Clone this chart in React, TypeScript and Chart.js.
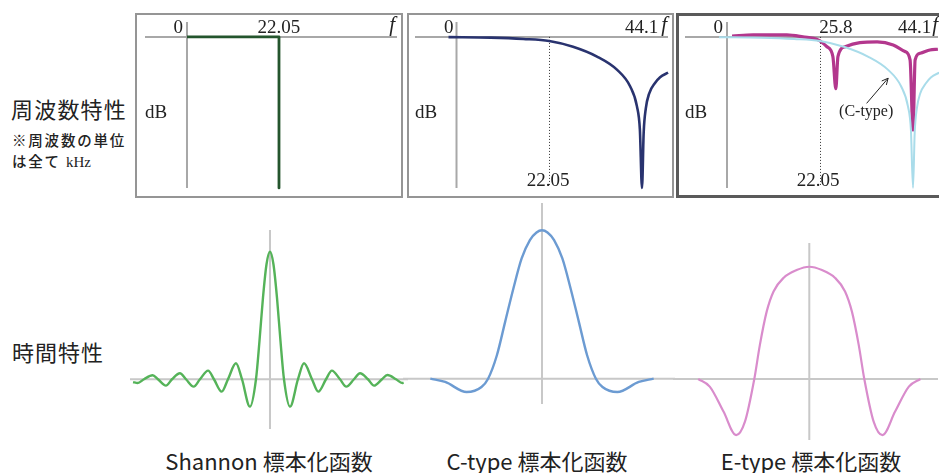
import React, { useEffect, useRef } from "react";
import { Chart, registerables } from "chart.js";

Chart.register(...registerables);

// ---------------- data ----------------
// Frequency characteristics: x = frequency (kHz), y = level (dB)
const nyquistKHz = 22.05;
const samplingKHz = 44.1;
const eTypeNotchKHz = 25.8;
const floorDb = -60;

const shannonFreqKHz = [0, 22.05, 22.05];
const shannonFreqDb = [0, 0, -60];

const cTypeFreqKHz = [-1.9, 8.1, 15.9, 22.05, 27.7, 33.4, 38.2, 41.3, 42.9, 43.6, 44.1, 44.5, 45.0, 45.8, 47.2, 48.4, 50.3];
const cTypeFreqDb = [-0.1, -0.3, -0.8, -1.6, -3.9, -7.8, -13.1, -19.7, -27.6, -36.9, -60, -38, -28.5, -22.5, -18.3, -16.0, -14.2];

const eTypeFreqKHz = [1.2, 6.2, 14.2, 18.0, 21.6, 23.7, 25.1, 25.8, 26.3, 28.0, 31.5, 35.6, 39.4, 42.2, 43.4, 44.1, 44.6, 45.8, 48.1, 50.0];
const eTypeFreqDb = [0.3, 0.8, 0.8, 0, -1.2, -3.9, -7.8, -20.6, -7.8, -3.9, -2.3, -2.0, -3.2, -5.8, -9.1, -37, -9.1, -6.5, -5.2, -4.9];

// Time characteristics: x = time (sampling intervals), y = amplitude
const shannonTime = [-9.78, -9.45, -9, -8.38, -8, -7.43, -7, -6.43, -6, -5.45, -5, -4.42, -4, -3.45, -3, -2.43, -2, -1.43, -1, -0.75, -0.5, -0.25, 0, 0.25, 0.5, 0.75, 1, 1.43, 2, 2.43, 3, 3.45, 4, 4.42, 5, 5.45, 6, 6.43, 7, 7.43, 8, 8.38, 9, 9.45, 9.55];
const shannonValue = [-0.022, -0.03, 0, 0.031, 0, -0.05, 0, 0.047, 0, -0.058, 0, 0.068, 0, -0.097, 0, 0.125, 0, -0.215, 0, 0.3, 0.64, 0.9, 1, 0.9, 0.64, 0.3, 0, -0.215, 0, 0.125, 0, -0.097, 0, 0.068, 0, -0.058, 0, 0.047, 0, -0.05, 0, 0.033, 0, -0.03, -0.028];

const cTypeTime = [-2.03, -1.76, -1.37, -1.1, -0.98, -0.82, -0.67, -0.52, -0.37, -0.22, -0.1, 0, 0.1, 0.22, 0.37, 0.52, 0.67, 0.82, 0.98, 1.1, 1.37, 1.76, 2.03];
const cTypeValue = [0, -0.022, -0.09, -0.056, 0, 0.158, 0.383, 0.608, 0.81, 0.934, 0.985, 1, 0.985, 0.934, 0.81, 0.608, 0.383, 0.158, 0, -0.056, -0.09, -0.022, 0];

const eTypeTime = [-2.02, -1.81, -1.56, -1.33, -1.17, -1.0, -0.9, -0.775, -0.65, -0.47, -0.23, 0, 0.23, 0.47, 0.65, 0.775, 0.9, 1.0, 1.17, 1.33, 1.56, 1.81, 2.02];
const eTypeValue = [0, -0.068, -0.29, -0.5, -0.38, 0, 0.3, 0.6, 0.78, 0.9, 0.97, 1, 0.97, 0.9, 0.78, 0.6, 0.3, 0, -0.38, -0.5, -0.29, -0.068, 0];

// Text
const freqHeading = "周波数特性";
const freqNote1 = "※周波数の単位";
const freqNote2 = "は全て ";
const freqUnit = "kHz";
const timeHeading = "時間特性";
const captions = ["Shannon 標本化函数", "C-type 標本化函数", "E-type 標本化函数"];
const zeroLabel = "0";
const dbLabel = "dB";
const freqSymbol = "f";
const cTypeNote = "(C-type)";

// ---------------- helpers ----------------
const SERIF = '"Liberation Serif", "Times New Roman", serif';
const SANS = '"Noto Sans CJK JP", "Noto Sans", sans-serif';

function series(xs: number[], ys: number[], color: string, width: number, smooth = true) {
  return {
    data: xs.map((x, i) => ({ x, y: ys[i] })),
    borderColor: color,
    backgroundColor: color,
    borderWidth: width,
    fill: false,
    pointRadius: 0,
    tension: 0,
    cubicInterpolationMode: smooth ? "monotone" : "default",
  };
}

function txt(ctx: CanvasRenderingContext2D, s: string, x: number, y: number, font: string, align: CanvasTextAlign = "left", color = "#222") {
  ctx.save();
  ctx.font = font;
  ctx.fillStyle = color;
  ctx.textAlign = align;
  ctx.textBaseline = "alphabetic";
  ctx.fillText(s, x, y);
  ctx.restore();
}

type Hook = (chart: any, ctx: CanvasRenderingContext2D) => void;

function makeChart(canvas: HTMLCanvasElement, o: { xMin: number; xMax: number; yMin: number; yMax: number; datasets: any[]; before?: Hook; after?: Hook }) {
  return new Chart(canvas, {
    type: "line",
    data: { datasets: o.datasets },
    options: {
      responsive: false,
      animation: false,
      events: [],
      layout: { padding: 0 },
      plugins: { legend: { display: false }, tooltip: { enabled: false }, title: { display: false } },
      scales: {
        x: { type: "linear", display: false, min: o.xMin, max: o.xMax },
        y: { type: "linear", display: false, min: o.yMin, max: o.yMax },
      },
      elements: { point: { radius: 0 }, line: { borderCapStyle: "butt", borderJoinStyle: "round" } },
    } as any,
    plugins: [
      {
        id: "decor",
        beforeDatasetsDraw(chart: any) {
          o.before && o.before(chart, chart.ctx);
        },
        afterDatasetsDraw(chart: any) {
          o.after && o.after(chart, chart.ctx);
        },
      },
    ],
  } as any);
}

function ChartBox({ left, top, width, height, build }: { left: number; top: number; width: number; height: number; build: (c: HTMLCanvasElement) => Chart }) {
  const ref = useRef<HTMLCanvasElement>(null);
  useEffect(() => {
    const chart = build(ref.current as HTMLCanvasElement);
    return () => chart.destroy();
  }, []);
  return <canvas ref={ref} width={width} height={height} style={{ position: "absolute", left, top, width, height, display: "block" }} />;
}

// frame + axes for the frequency panels
function freqFrame(chart: any, ctx: CanvasRenderingContext2D, o: { border: string; bw: number; openRight?: boolean; hInset: [number, number]; dotted: boolean }) {
  const { left, right, top, bottom } = chart.chartArea;
  const xs = chart.scales.x, ys = chart.scales.y;
  const ax = xs.getPixelForValue(0), ay = ys.getPixelForValue(0);
  ctx.save();
  ctx.strokeStyle = "#a8a8a8";
  ctx.lineWidth = 2;
  ctx.beginPath();
  ctx.moveTo(left + o.hInset[0], ay);
  ctx.lineTo(right - o.hInset[1], ay);
  ctx.moveTo(ax, top + 9);
  ctx.lineTo(ax, ys.getPixelForValue(floorDb));
  ctx.stroke();
  if (o.dotted) {
    const nx = Math.round(xs.getPixelForValue(nyquistKHz)) + 0.5;
    ctx.strokeStyle = "#333";
    ctx.lineWidth = 1;
    ctx.setLineDash([1, 2]);
    ctx.beginPath();
    ctx.moveTo(nx, ay);
    ctx.lineTo(nx, ys.getPixelForValue(floorDb) - 2);
    ctx.stroke();
    ctx.setLineDash([]);
  }
  ctx.strokeStyle = o.border;
  ctx.lineWidth = o.bw;
  const h = o.bw / 2;
  ctx.strokeRect(left + h, top + h, right - left - o.bw + (o.openRight ? 20 : 0), bottom - top - o.bw);
  ctx.restore();
}

function timeAxes(chart: any, ctx: CanvasRenderingContext2D, hInset: [number, number], vInset: [number, number]) {
  const { left, right, top, bottom } = chart.chartArea;
  const ax = chart.scales.x.getPixelForValue(0), ay = chart.scales.y.getPixelForValue(0);
  ctx.save();
  ctx.strokeStyle = "#c8c8c8";
  ctx.lineWidth = 2;
  ctx.beginPath();
  ctx.moveTo(left + hInset[0], ay);
  ctx.lineTo(right - hInset[1], ay);
  ctx.moveTo(ax, top + vInset[0]);
  ctx.lineTo(ax, bottom - vInset[1]);
  ctx.stroke();
  ctx.restore();
}

const NUM_FONT = `19px ${SERIF}`;
const F_FONT = `italic 21px ${SERIF}`;

function rightSymbols(ctx: CanvasRenderingContext2D, rightX: number, ay: number, withFs: boolean, gap: number) {
  txt(ctx, freqSymbol, rightX, ay - 6, F_FONT, "right");
  if (withFs) {
    ctx.save();
    ctx.font = F_FONT;
    const fw = ctx.measureText(freqSymbol).width;
    ctx.restore();
    txt(ctx, String(samplingKHz), rightX - fw - gap, ay - 4, NUM_FONT, "right");
  }
}

// ---------------- layout constants ----------------
const FREQ_TOP = 13;
const FREQ_H = 185;
const DB_MIN = -64;
const DB_MAX = 9.5;

export default function App() {
  const freqY = { yMin: DB_MIN, yMax: DB_MAX };

  const buildShannonFreq = (c: HTMLCanvasElement) =>
    makeChart(c, {
      xMin: -12.46, xMax: 51.77, ...freqY,
      datasets: [series(shannonFreqKHz, shannonFreqDb, "#24552d", 2.8, false)],
      before: (ch, ctx) => freqFrame(ch, ctx, { border: "#959595", bw: 2, hInset: [10, 6], dotted: false }),
      after: (ch, ctx) => {
        const xs = ch.scales.x, ys = ch.scales.y;
        const ax = xs.getPixelForValue(0), ay = ys.getPixelForValue(0);
        txt(ctx, zeroLabel, ax - 4, ay - 4, NUM_FONT, "right");
        txt(ctx, String(nyquistKHz), xs.getPixelForValue(nyquistKHz), ay - 4, NUM_FONT, "center");
        rightSymbols(ctx, ch.chartArea.right - 8, ay, false, 0);
        txt(ctx, dbLabel, ch.chartArea.left + 10, ch.chartArea.top + 105, NUM_FONT);
      },
    });

  const buildCTypeFreq = (c: HTMLCanvasElement) =>
    makeChart(c, {
      xMin: -11.77, xMax: 51.71, ...freqY,
      datasets: [series(cTypeFreqKHz, cTypeFreqDb, "#29336f", 2.6)],
      before: (ch, ctx) => freqFrame(ch, ctx, { border: "#959595", bw: 2, hInset: [8, 6], dotted: true }),
      after: (ch, ctx) => {
        const xs = ch.scales.x, ys = ch.scales.y;
        const ax = xs.getPixelForValue(0), ay = ys.getPixelForValue(0);
        txt(ctx, zeroLabel, ax - 3, ay - 4, NUM_FONT, "right");
        rightSymbols(ctx, ch.chartArea.right - 7, ay, true, 3);
        txt(ctx, dbLabel, ch.chartArea.left + 8, ch.chartArea.top + 105, NUM_FONT);
        txt(ctx, String(nyquistKHz), xs.getPixelForValue(nyquistKHz) - 1, ys.getPixelForValue(floorDb) - 2, NUM_FONT, "center");
      },
    });

  const buildETypeFreq = (c: HTMLCanvasElement) =>
    makeChart(c, {
      xMin: -12.09, xMax: 50.26, ...freqY,
      datasets: [
        series(cTypeFreqKHz, cTypeFreqDb, "#a9dcea", 2),
        series(eTypeFreqKHz, eTypeFreqDb, "#b3378d", 3.2),
      ],
      before: (ch, ctx) => freqFrame(ch, ctx, { border: "#5a5a5a", bw: 3, openRight: true, hInset: [9, 1], dotted: true }),
      after: (ch, ctx) => {
        const xs = ch.scales.x, ys = ch.scales.y;
        const ax = xs.getPixelForValue(0), ay = ys.getPixelForValue(0);
        txt(ctx, zeroLabel, ax - 4, ay - 4, NUM_FONT, "right");
        txt(ctx, String(eTypeNotchKHz), xs.getPixelForValue(eTypeNotchKHz), ay - 4, NUM_FONT, "center");
        rightSymbols(ctx, ch.chartArea.right - 1, ay, true, 1);
        txt(ctx, dbLabel, ch.chartArea.left + 9, ch.chartArea.top + 105, NUM_FONT);
        txt(ctx, String(nyquistKHz), xs.getPixelForValue(nyquistKHz) - 2, ys.getPixelForValue(floorDb) - 2, NUM_FONT, "center");
        // (C-type) annotation with arrow
        txt(ctx, cTypeNote, xs.getPixelForValue(33.0), ys.getPixelForValue(-31.4), `16px ${SERIF}`, "center");
        const x1 = xs.getPixelForValue(33.1), y1 = ys.getPixelForValue(-26.4);
        const x2 = xs.getPixelForValue(38.2), y2 = ys.getPixelForValue(-16.4);
        const ang = Math.atan2(y2 - y1, x2 - x1);
        ctx.save();
        ctx.strokeStyle = "#222";
        ctx.lineWidth = 1;
        ctx.beginPath();
        ctx.moveTo(x1, y1);
        ctx.lineTo(x2, y2);
        ctx.moveTo(x2, y2);
        ctx.lineTo(x2 - 7 * Math.cos(ang - 0.45), y2 - 7 * Math.sin(ang - 0.45));
        ctx.moveTo(x2, y2);
        ctx.lineTo(x2 - 7 * Math.cos(ang + 0.45), y2 - 7 * Math.sin(ang + 0.45));
        ctx.stroke();
        ctx.restore();
      },
    });

  const buildShannonTime = (c: HTMLCanvasElement) =>
    makeChart(c, {
      xMin: -10.14, xMax: 9.857, yMin: -0.445, yMax: 1.233,
      datasets: [series(shannonTime, shannonValue, "#55b359", 2.4)],
      before: (ch, ctx) => timeAxes(ch, ctx, [2, 0], [8, 7]),
    });

  const buildCTypeTime = (c: HTMLCanvasElement) =>
    makeChart(c, {
      xMin: -2.527, xMax: 2.418, yMin: -0.211, yMax: 1.204,
      datasets: [series(cTypeTime, cTypeValue, "#6c9bd2", 2.4)],
      before: (ch, ctx) => timeAxes(ch, ctx, [0, 0], [3, 6]),
    });

  const buildETypeTime = (c: HTMLCanvasElement) =>
    makeChart(c, {
      xMin: -2.478, xMax: 2.358, yMin: -0.543, yMax: 1.238,
      datasets: [series(eTypeTime, eTypeValue, "#d98ccc", 2.2)],
      before: (ch, ctx) => timeAxes(ch, ctx, [0, 1], [3, 0]),
    });

  const heading: React.CSSProperties = { position: "absolute", whiteSpace: "nowrap", color: "#222", fontFamily: SANS, lineHeight: 1 };
  const captionCenters = [269, 537, 811];

  return (
    <div style={{ position: "absolute", left: 0, top: 0, width: 939, height: 473, overflow: "hidden", background: "#fff" }}>
      <ChartBox left={135} top={FREQ_TOP} width={268} height={FREQ_H} build={buildShannonFreq} />
      <ChartBox left={407} top={FREQ_TOP} width={267} height={FREQ_H} build={buildCTypeFreq} />
      <ChartBox left={676} top={FREQ_TOP} width={263} height={FREQ_H} build={buildETypeFreq} />

      <ChartBox left={128} top={222} width={280} height={214} build={buildShannonTime} />
      <ChartBox left={403} top={200} width={272} height={210} build={buildCTypeTime} />
      <ChartBox left={673} top={240} width={266} height={200} build={buildETypeTime} />

      <div style={{ ...heading, left: 11, top: 97, fontSize: 22, fontWeight: 400, letterSpacing: 1.2 }}>{freqHeading}</div>
      <div style={{ ...heading, left: 12, top: 133, fontSize: 14.5, fontWeight: 500, letterSpacing: 1.8 }}>{freqNote1}</div>
      <div style={{ ...heading, left: 12, top: 154, fontSize: 14.5, fontWeight: 500, letterSpacing: 1.8 }}>
        {freqNote2}
        <span style={{ fontFamily: SERIF, fontSize: 15, fontWeight: 400, letterSpacing: 0 }}>{freqUnit}</span>
      </div>
      <div style={{ ...heading, left: 12, top: 340, fontSize: 22, fontWeight: 400, letterSpacing: 1 }}>{timeHeading}</div>

      {captions.map((c, i) => (
        <div key={c} style={{ ...heading, left: captionCenters[i] - 150, width: 300, textAlign: "center", top: 449, fontSize: 22, fontWeight: 400 }}>
          {c}
        </div>
      ))}
    </div>
  );
}
